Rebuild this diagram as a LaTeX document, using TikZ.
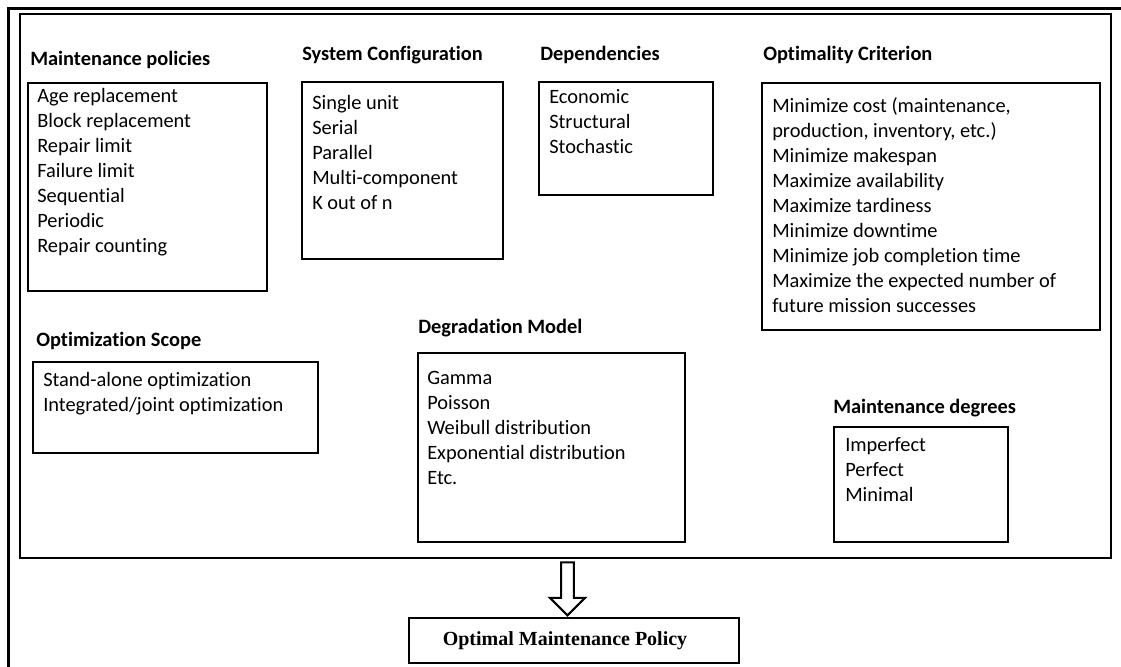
\documentclass[tikz,border=0pt]{standalone}
\usepackage{fontspec}
\setmainfont{Carlito}[Ligatures=NoCommon]
\newfontfamily\resultfont{Liberation Serif}
\usepackage{tikz}
\usetikzlibrary{positioning, fit, calc, shapes.arrows}
\tikzstyle{panel} = [rectangle, draw=black, line width=1.7pt, inner sep=0pt]
\tikzstyle{group} = [rectangle, draw=black, line width=1.9pt, inner sep=0pt]
\tikzstyle{heading} = [anchor=base west, inner sep=0pt, font=\fontsize{15.3pt}{18pt}\selectfont\bfseries]
\tikzstyle{items} = [anchor=north west, inner sep=0pt, align=left, font=\fontsize{15.3pt}{18.75pt}\selectfont]
\tikzstyle{result} = [rectangle, draw=black, line width=1.9pt, minimum width=247.5pt, minimum height=33.75pt, font=\resultfont\bfseries\fontsize{15pt}{18pt}\selectfont]
\tikzstyle{hollow} = [single arrow, draw=black, line width=1.5pt, shape border rotate=270, inner sep=4.1pt, minimum height=39.75pt, single arrow head extend=8.25pt]

\begin{document}
\begin{tikzpicture}[x=0.75pt, y=-0.75pt]
    \useasboundingbox (0,0) rectangle (1121,667);

    % outer frame (cut at right and bottom)
    \draw [line width=2pt] (8.5,667) -- (8.5,8.5) -- (1121,8.5);

    % inner frame
    \node (frame) [panel, fit={(20,14) (1111,558)}] {};

    % Maintenance policies
    \node (polTitle) [heading] at (30,65) {Maintenance policies};
    \node (pol) [group, fit={(28,83) (267,291)}] {};
    \node (polList) [items] at (37,88) {Age replacement\\Block replacement\\Repair limit\\Failure limit\\Sequential\\Periodic\\Repair counting};

    % System Configuration
    \node (sysTitle) [heading] at (302,61) {System Configuration};
    \node (sys) [group, fit={(302,82) (503,259)}] {};
    \node (sysList) [items] at (312,95) {Single unit\\Serial\\Parallel\\Multi-component\\K out of n};

    % Dependencies
    \node (depTitle) [heading] at (540,61) {Dependencies};
    \node (dep) [group, fit={(539,82) (713,195)}] {};
    \node (depList) [items] at (549,89) {Economic\\Structural\\Stochastic};

    % Optimality Criterion
    \node (optTitle) [heading] at (763,61) {Optimality Criterion};
    \node (opt) [group, fit={(762,83) (1100,330)}] {};
    \node (optList) [items] at (772,97) {Minimize cost (maintenance,\\production, inventory, etc.)\\Minimize makespan\\Maximize availability\\Maximize tardiness\\Minimize downtime\\Minimize job completion time\\Maximize the expected number of\\future mission successes};

    % Optimization Scope
    \node (scopeTitle) [heading] at (36,346) {Optimization Scope};
    \node (scope) [group, fit={(33,362) (318,453)}] {};
    \node (scopeList) [items] at (43,372) {Stand-alone optimization\\Integrated/joint optimization};

    % Degradation Model
    \node (degTitle) [heading] at (418,333) {Degradation Model};
    \node (deg) [group, fit={(418,353) (685,542)}] {};
    \node (degList) [items] at (427,371) {Gamma\\Poisson\\Weibull distribution\\Exponential distribution\\Etc.};

    % Maintenance degrees
    \node (mdTitle) [heading] at (833,413) {Maintenance degrees};
    \node (md) [group, fit={(834,427) (1008,542)}] {};
    \node (mdList) [items] at (845,437) {Imperfect\\Perfect\\Minimal};

    % result
    \node (policy) [result] at (574,640.5) {\hspace*{-13.5pt}Optimal Maintenance Policy};
    \node (flow) [hollow] at ($(frame.south)+(2,26.5)$) {};

\end{tikzpicture}
\end{document}
